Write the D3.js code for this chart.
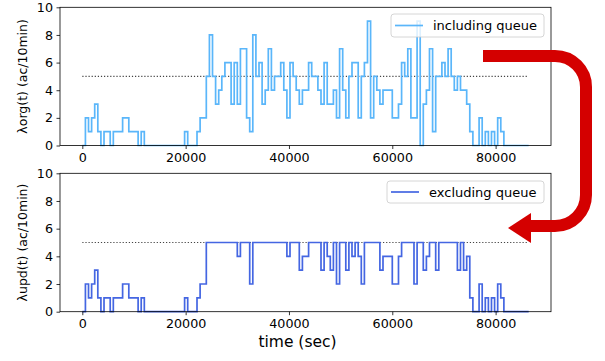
<!DOCTYPE html>
<html>
<head>
<meta charset="utf-8">
<script src="https://cdn.jsdelivr.net/npm/d3@7"></script>
<style>
  body { margin: 0; background: #fff; }
  svg { display: block; font-family: "DejaVu Sans", sans-serif; }
</style>
</head>
<body>
<svg id="chart" width="605" height="361"></svg>
<script>
// 10-minute bins over one day (seconds)
const binSeconds = 600;
const dayEnd = 86400;
const capacity = 5;

// arrivals per 10 min, including queue
const includingQueue = [
  0,2,1,2,3,1,0,1,1,0, 1,1,1,2,2,1,1,1,0,1,
  0,0,0,0,0,0,0,0,0,0, 0,0,0,1,0,0,0,1,2,2,
  5,8,5,3,4,5,6,6,3,6, 3,7,7,2,1,8,5,6,3,4,
  7,4,5,5,6,4,2,6,5,4, 3,4,4,6,5,5,4,3,6,3,
  3,4,2,7,4,2,5,6,6,2, 5,6,9,2,5,4,3,4,4,4,
  2,2,3,6,5,7,2,2,9,0, 3,4,7,1,5,5,6,5,7,5,
  4,5,4,4,3,1,0,0,2,0, 1,0,1,0,2,1,0,0,0,0,
  0,0,0,0
];

// updated rate per 10 min, excluding queue
const excludingQueue = [
  0,2,1,2,3,1,0,1,1,0, 1,1,1,2,2,1,1,1,0,1,
  0,0,0,0,0,0,0,0,0,0, 0,0,0,1,0,0,0,1,2,2,
  5,5,5,5,5,5,5,5,5,5, 4,5,5,5,2,5,5,5,5,5,
  5,5,5,5,5,5,4,5,5,5, 3,4,4,5,5,5,5,3,5,4,
  3,5,2,5,5,3,5,4,5,4, 2,5,5,5,5,5,3,4,4,4,
  2,2,4,5,5,5,5,2,5,5, 3,4,5,5,3,5,5,5,5,5,
  5,3,5,3,4,1,0,0,2,0, 1,0,1,0,2,1,0,0,0,0,
  0,0,0,0
];

const xTicks = [0, 20000, 40000, 60000, 80000];
const yTicks = [0, 2, 4, 6, 8, 10];

const panels = [
  { values: includingQueue, label: 'λorg(t) (ac/10min)', legend: 'including queue',
    color: '#5ab6fa', top: 7.3, bottom: 145.5, legendBox: [391, 14, 153, 23] },
  { values: excludingQueue, label: 'λupd(t) (ac/10min)', legend: 'excluding queue',
    color: '#4466e2', top: 173.3, bottom: 311.7, legendBox: [387, 181, 157, 22] }
];

const left = 60, right = 551;
const svg = d3.select('#chart');

const x = d3.scaleLinear().domain([-dayEnd * 0.05, dayEnd * 1.05]).range([left, right]);

panels.forEach((p) => {
  const y = d3.scaleLinear().domain([0, 10]).range([p.bottom, p.top]);
  const g = svg.append('g');

  const pts = p.values.map((v, i) => [i * binSeconds, v]);
  pts.push([dayEnd, p.values[p.values.length - 1]]);

  // capacity reference
  g.append('line')
    .attr('x1', x(0)).attr('x2', x(dayEnd))
    .attr('y1', y(capacity)).attr('y2', y(capacity))
    .attr('stroke', '#444').attr('stroke-width', 1.2)
    .attr('stroke-dasharray', '1.2,1.9');

  const line = d3.line()
    .x((d) => x(d[0]))
    .y((d) => y(d[1]))
    .curve(d3.curveStepAfter);

  g.append('path')
    .datum(pts)
    .attr('d', line)
    .attr('fill', 'none')
    .attr('stroke', p.color)
    .attr('stroke-width', 1.7);

  // frame
  g.append('rect')
    .attr('x', left).attr('y', p.top)
    .attr('width', right - left).attr('height', p.bottom - p.top)
    .attr('fill', 'none').attr('stroke', '#000').attr('stroke-width', 0.8);

  const xAxis = g.append('g')
    .attr('transform', 'translate(0,' + p.bottom + ')')
    .call(d3.axisBottom(x).tickValues(xTicks).tickFormat(d3.format('d')).tickSize(3.5).tickPadding(3.5));
  const yAxis = g.append('g')
    .attr('transform', 'translate(' + left + ',0)')
    .call(d3.axisLeft(y).tickValues(yTicks).tickSize(3.5).tickPadding(3.5));

  [xAxis, yAxis].forEach((a) => {
    a.select('.domain').remove();
    a.selectAll('line').attr('stroke', '#000').attr('stroke-width', 0.8);
    a.selectAll('text').attr('fill', '#000').style('font-size', '12.7px').style('font-family', '"DejaVu Sans", sans-serif');
  });

  g.append('text')
    .attr('transform', 'translate(27,' + ((p.top + p.bottom) / 2) + ') rotate(-90)')
    .attr('text-anchor', 'middle')
    .style('font-size', '12.5px')
    .text(p.label);

  // legend
  const [lx, ly, lw, lh] = p.legendBox;
  g.append('rect')
    .attr('x', lx).attr('y', ly).attr('width', lw).attr('height', lh)
    .attr('rx', 3)
    .attr('fill', '#fff').attr('fill-opacity', 0.8)
    .attr('stroke', '#ccc').attr('stroke-width', 0.8);
  g.append('line')
    .attr('x1', lx + 4).attr('x2', lx + 32)
    .attr('y1', ly + lh / 2).attr('y2', ly + lh / 2)
    .attr('stroke', p.color).attr('stroke-width', 1.7);
  g.append('text')
    .attr('x', lx + 42).attr('y', ly + lh / 2)
    .attr('dy', '0.35em')
    .style('font-size', '13px')
    .text(p.legend);
});

svg.append('text')
  .attr('x', 297.5).attr('y', 347)
  .attr('text-anchor', 'middle')
  .style('font-size', '15.5px')
  .text('time (sec)');

// red curved arrow between the panels
svg.append('path')
  .attr('d', 'M483,56 H555 A31,31 0 0 1 586,87 V195 A31,31 0 0 1 555,226 H528')
  .attr('fill', 'none')
  .attr('stroke', '#d40000')
  .attr('stroke-width', 12);
svg.append('path')
  .attr('d', 'M508,228 L531,213 L531,243 Z')
  .attr('fill', '#d40000');
</script>
</body>
</html>
